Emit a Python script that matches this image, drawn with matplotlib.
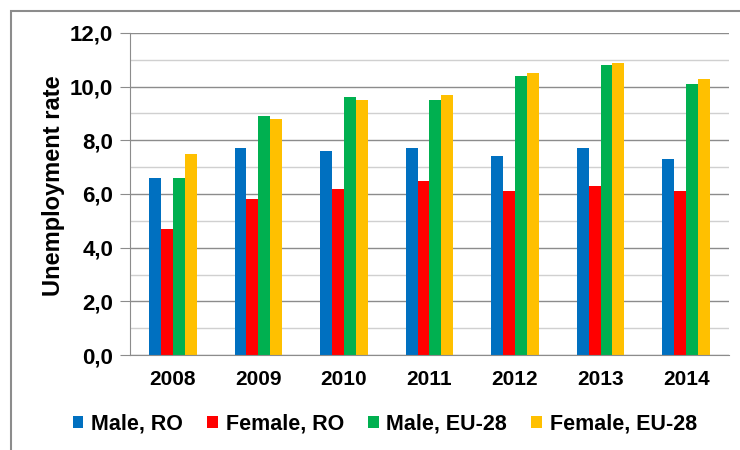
import matplotlib
matplotlib.use('Agg')
import matplotlib.pyplot as plt
from matplotlib.patches import Rectangle
from matplotlib.ticker import MultipleLocator, FuncFormatter
import numpy as np

plt.rcParams['font.family'] = ['Liberation Sans', 'DejaVu Sans']

years = ['2008', '2009', '2010', '2011', '2012', '2013', '2014']
male_ro = [6.6, 7.7, 7.6, 7.7, 7.4, 7.7, 7.3]
female_ro = [4.7, 5.8, 6.2, 6.5, 6.1, 6.3, 6.1]
male_eu = [6.6, 8.9, 9.6, 9.5, 10.4, 10.8, 10.1]
female_eu = [7.5, 8.8, 9.5, 9.7, 10.5, 10.9, 10.3]

series = [
    ('Male, RO', male_ro, '#0070C0'),
    ('Female, RO', female_ro, '#FF0000'),
    ('Male, EU-28', male_eu, '#00B050'),
    ('Female, EU-28', female_eu, '#FFC000'),
]

fig = plt.figure(figsize=(7.4, 4.5), dpi=100)
ax = fig.add_axes([0.1757, 0.2111, 0.8093, 0.7156])

# outer chart border
fig.patches.append(Rectangle((11 / 740, -0.1), 1.2, 1 - 11 / 450 + 0.1,
                             transform=fig.transFigure, fill=False,
                             edgecolor='#8c8c8c', linewidth=1.5))

x = np.arange(len(years))
w = 0.139
for i, (name, vals, col) in enumerate(series):
    ax.bar(x + (i - 1.5) * w, vals, width=w, color=col, label=name,
           edgecolor='none', zorder=3)

ax.set_xlim(-0.5, 6.5)
ax.set_ylim(0, 12)
ax.yaxis.set_major_locator(MultipleLocator(2))
ax.yaxis.set_minor_locator(MultipleLocator(1))
ax.yaxis.set_major_formatter(FuncFormatter(lambda v, p: f'{v:.1f}'.replace('.', ',')))
ax.grid(axis='y', which='major', color='#8c8c8c', linewidth=1, zorder=0)
ax.grid(axis='y', which='minor', color='#d0d0d0', linewidth=1, zorder=0)

ax.set_xticks(x)
ax.set_xticklabels(years, fontsize=15, fontweight='bold')
for t in ax.get_yticklabels():
    t.set_fontsize(16)
    t.set_fontweight('bold')
ax.tick_params(axis='x', length=0, pad=11)
ax.tick_params(axis='y', which='major', length=7, color='#8c8c8c', pad=5)
ax.tick_params(axis='y', which='minor', length=0)

for s in ['top', 'right']:
    ax.spines[s].set_visible(False)
ax.spines['left'].set_color('#8c8c8c')
ax.spines['bottom'].set_color('#8c8c8c')
ax.spines['bottom'].set_zorder(4)

ax.set_ylabel('Unemployment rate', fontsize=17, fontweight='bold')
ax.yaxis.set_label_coords(-0.108, 0.525)

fig.legend(loc='center', bbox_to_anchor=(0.52, 0.058), ncol=4, frameon=False,
           prop={'size': 15.5, 'weight': 'bold'}, handlelength=0.5,
           handleheight=0.5, handletextpad=0.35, columnspacing=1.13)

fig.savefig('out.png', dpi=100)
